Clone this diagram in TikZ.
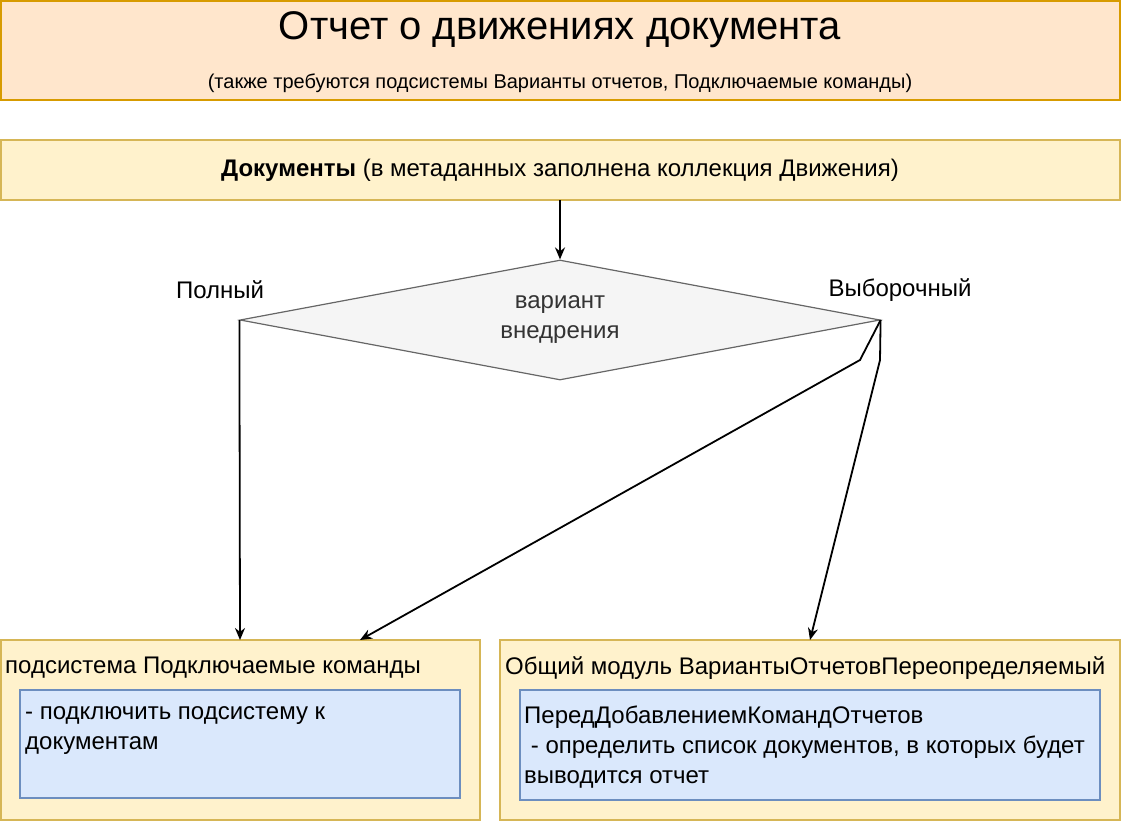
\documentclass[tikz,border=0pt]{standalone}
\usepackage{fontspec}
\setmainfont{Liberation Sans}
\usetikzlibrary{shapes.geometric,arrows.meta}
\definecolor{orf}{HTML}{FFE6CC}\definecolor{ors}{HTML}{D79B00}
\definecolor{yf}{HTML}{FFF2CC}\definecolor{ys}{HTML}{D6B656}
\definecolor{bf}{HTML}{DAE8FC}\definecolor{bs}{HTML}{6C8EBF}
\definecolor{gf}{HTML}{F5F5F5}\definecolor{gs}{HTML}{666666}
\definecolor{gt}{HTML}{333333}
\tikzset{x=1pt,y=-1pt,
 ybox/.style={draw=ys,fill=yf,line width=1.2pt},
 bbox/.style={draw=bs,fill=bf,line width=1.2pt},
 arr/.style={-{Stealth[length=12pt,width=10pt]},line width=1.8pt},
 t/.style={inner sep=0pt,font=\fontsize{24}{30}\selectfont}}
\begin{document}
\begin{tikzpicture}
\useasboundingbox (0,0) rectangle (1122,822);
\draw[draw=ors,fill=orf,line width=1.2pt] (1,1) rectangle (1120,100);
\node[inner sep=0pt,font=\fontsize{40}{44}\selectfont] (title) at (560,30) {Отчет о движениях документа};
\node[inner sep=0pt,font=\fontsize{20}{24}\selectfont] (sub) at (560,83) {(также требуются подсистемы Варианты отчетов, Подключаемые команды)};
\draw[ybox] (1,140) rectangle (1120,200);
\node[t] (docs) at (560,170) {\textbf{Документы} (в метаданных заполнена коллекция Движения)};
\coordinate (dtop) at (560,200);
\node[draw=gs,fill=gf,line width=1.2pt,diamond,aspect=5.33,minimum width=640pt,minimum height=120pt,inner sep=0pt] (dia) at (560,320) {};
\node[t,text=gt,align=center] at (560,320) {вариант\\внедрения};
\node[t] at (220,290) {Полный};
\node[t] at (900,290) {Выборочный};
\draw[ybox] (1,640) rectangle (480,820);
\draw[ybox] (500,640) rectangle (1120,820);
\draw[bbox] (20,690) rectangle (460,798);
\draw[bbox] (520,690) rectangle (1100,800);
\node[t,anchor=west] at (5,668) {подсистема Подключаемые команды};
\node[t,anchor=west] at (505,668) {Общий модуль ВариантыОтчетовПереопределяемый};
\node[t,anchor=north west,align=left] at (25,706) {- подключить подсистему к\\документам};
\node[t,anchor=north west,align=left] at (524,706) {ПередДобавлениемКомандОтчетов\\\ - определить список документов, в которых будет\\выводится отчет};
\coordinate (L) at (240,640); \coordinate (M) at (360,640); \coordinate (R) at (810,640);
\draw[arr] (dtop) -- (dia.north);
\draw[arr] (dia.west) -- (L);
\draw[arr] (dia.east) -- (860,360) -- (M);
\draw[arr] (dia.east) -- (880,360) -- (R);
\end{tikzpicture}
\end{document}
